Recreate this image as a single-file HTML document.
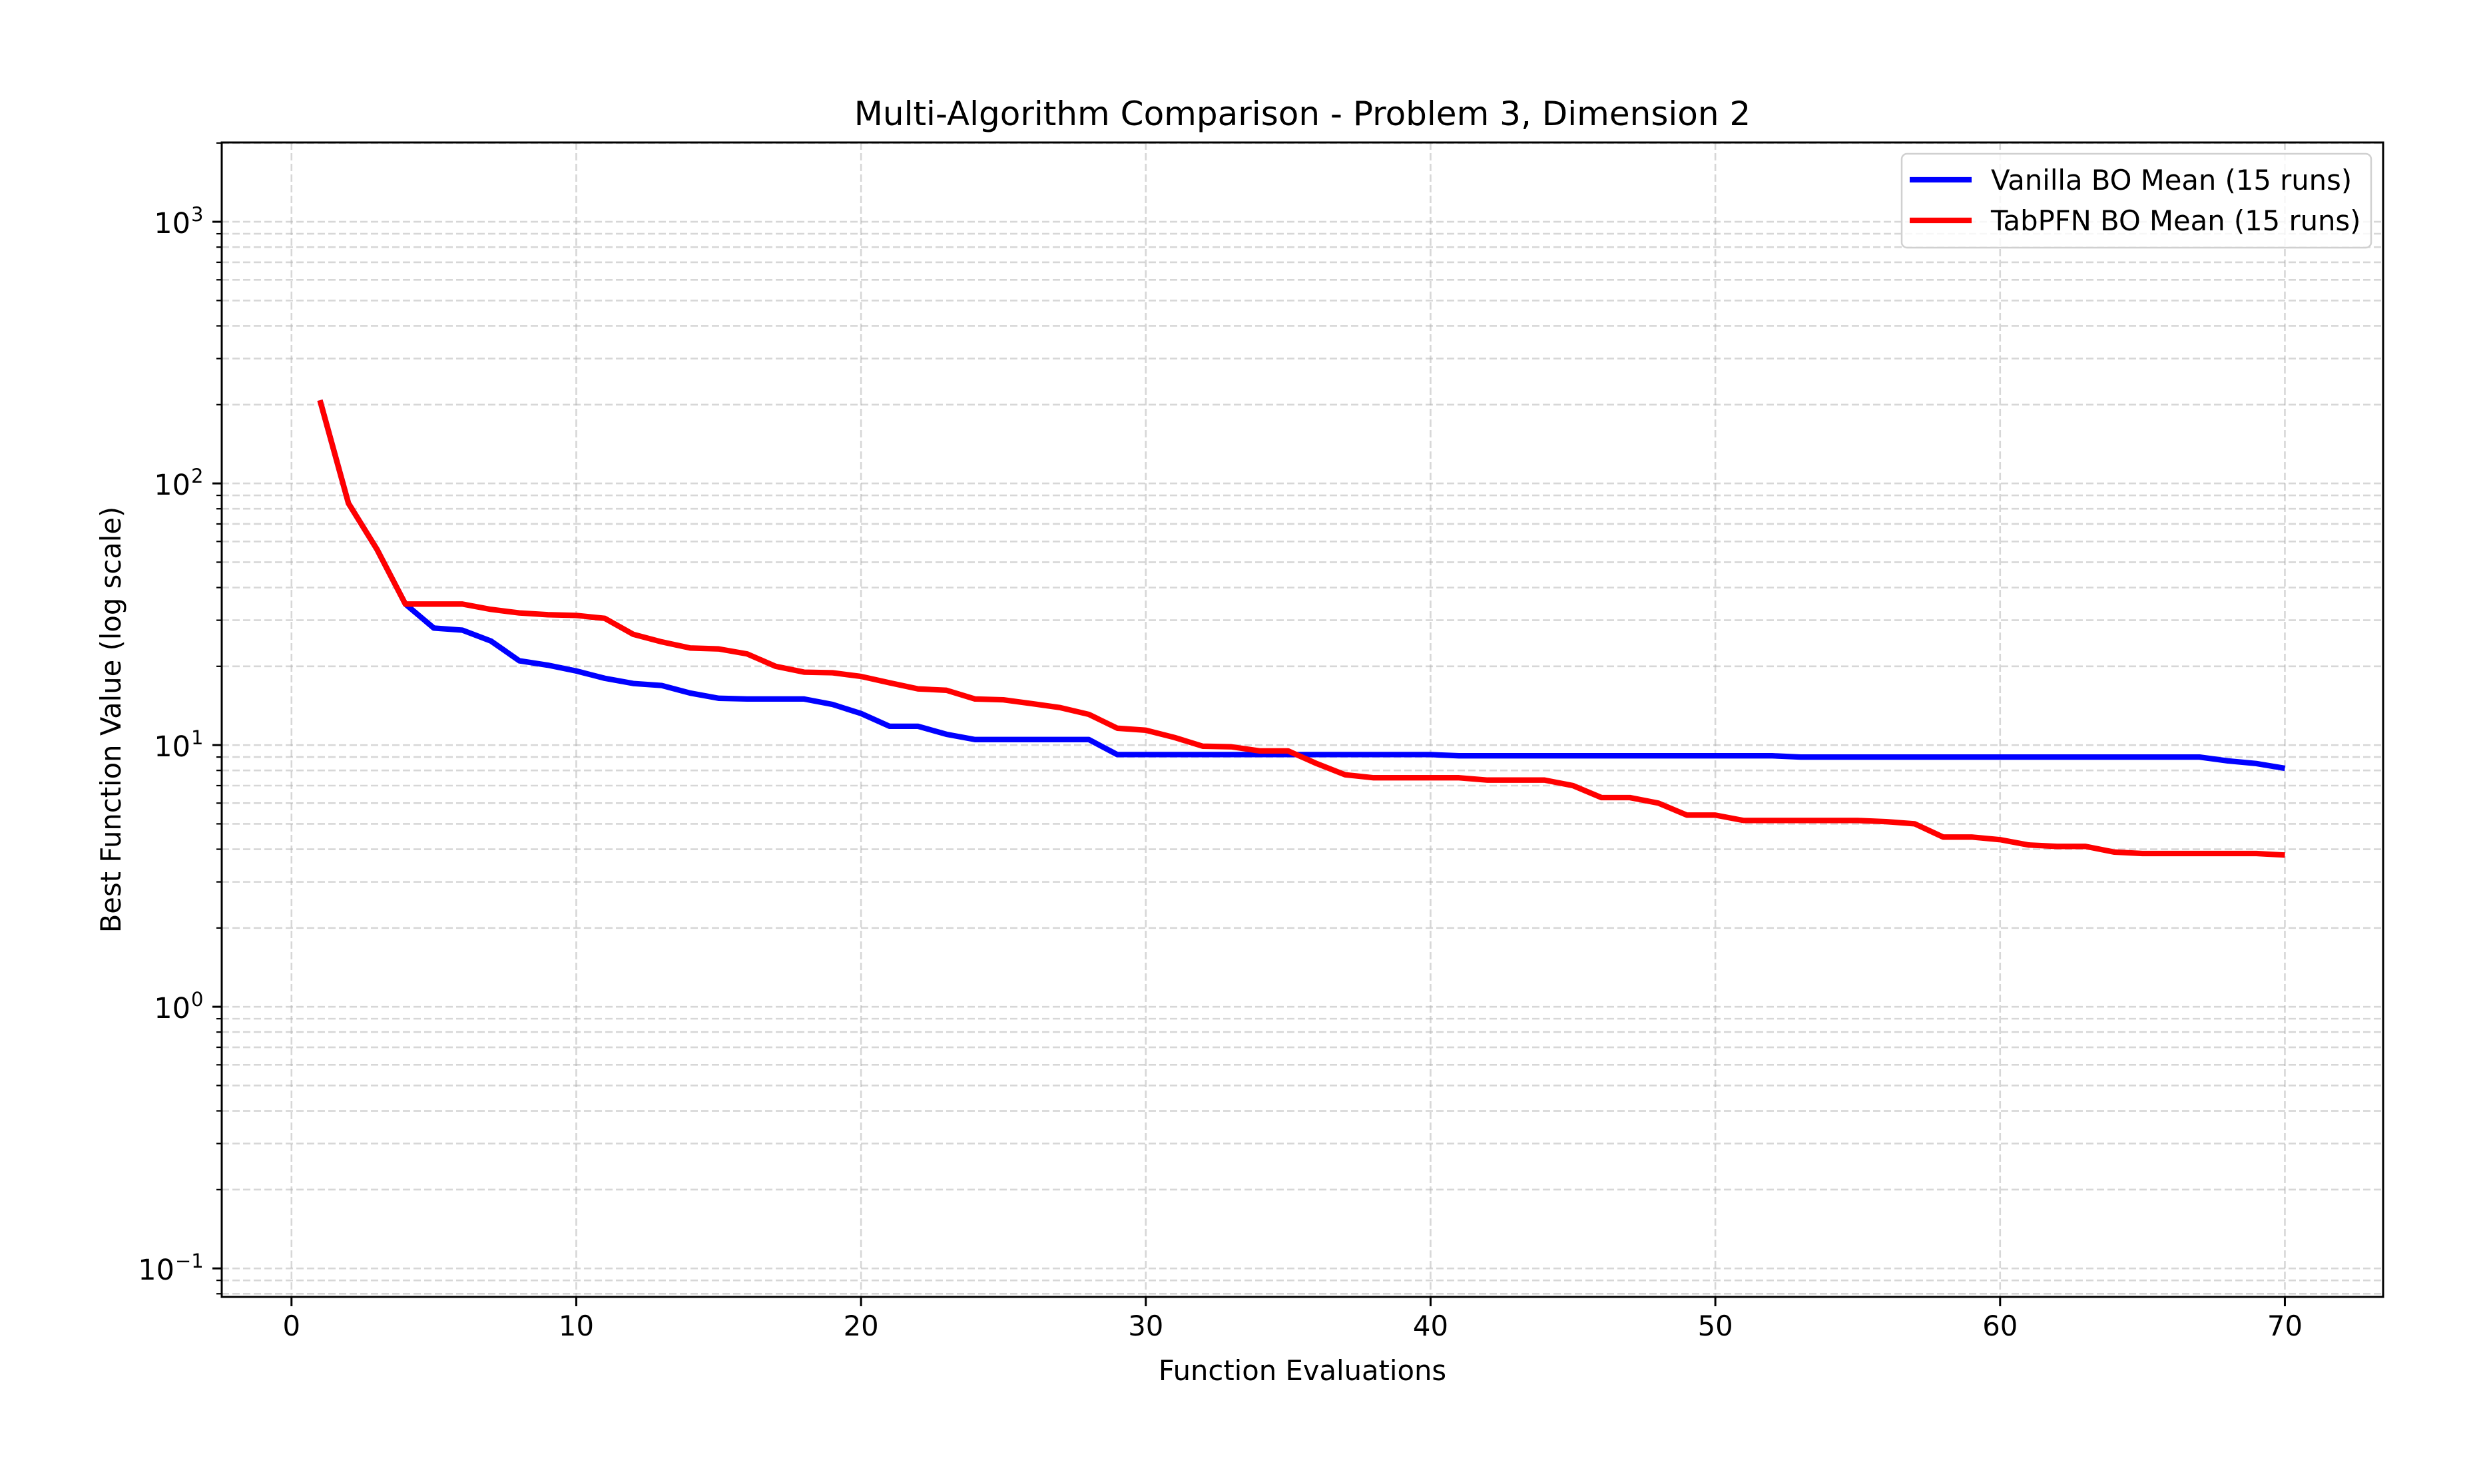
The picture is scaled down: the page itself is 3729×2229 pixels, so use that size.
<!DOCTYPE html>
<html><head><meta charset="utf-8"><style>
html,body{margin:0;padding:0;background:#fff;}
svg{display:block;}
text{font-family:"DejaVu Sans","Liberation Sans",sans-serif;fill:#000;}
</style></head><body>
<svg id="chart" width="3729" height="2229" viewBox="0 0 3729 2229" xmlns="http://www.w3.org/2000/svg">
<rect x="0" y="0" width="3729" height="2229" fill="#fff"/>
<g id="grid"></g>
<g id="series"></g>
<g id="axes"></g>
<text x="1956" y="188" font-size="50" text-anchor="middle">Multi-Algorithm Comparison - Problem 3, Dimension 2</text>
<text x="1956" y="2073" font-size="41.7" text-anchor="middle">Function Evaluations</text>
<text transform="translate(181,1081) rotate(-90)" font-size="41.7" text-anchor="middle">Best Function Value (log scale)</text>
<g>
<rect x="2856" y="231" width="705" height="141" rx="8" fill="#fff" fill-opacity="0.8" stroke="#d0d0d0" stroke-width="2.5"/>
<g>
<line x1="2868" y1="270" x2="2961" y2="270" stroke="#0000ff" stroke-width="8.3"/>
<text x="2990" y="285" font-size="41.7">Vanilla BO Mean (15 runs)</text>
</g>
<g>
<line x1="2868" y1="331" x2="2961" y2="331" stroke="#ff0000" stroke-width="8.3"/>
<text x="2990" y="346" font-size="41.7">TabPFN BO Mean (15 runs)</text>
</g>
</g>
</svg>
<script>
const evals = [];
for (let i = 1; i <= 70; i++) evals.push(i);
const vanillaMean = [208,84,56,34.6,28,27.5,25,21,20.2,19.2,18,17.2,16.9,15.8,15.1,15,15,15,14.3,13.2,11.8,11.8,11,10.5,10.5,10.5,10.5,10.5,9.2,9.2,9.2,9.2,9.2,9.2,9.2,9.2,9.2,9.2,9.2,9.2,9.1,9.1,9.1,9.1,9.1,9.1,9.1,9.1,9.1,9.1,9.1,9.1,9.0,9.0,9.0,9.0,9.0,9.0,9.0,9.0,9.0,9.0,9.0,9.0,9.0,9.0,9.0,8.7,8.5,8.15];
const tabpfnMean = [208,84,56,34.6,34.6,34.6,33,32,31.5,31.3,30.5,26.5,24.8,23.5,23.3,22.3,20,19,18.9,18.3,17.3,16.4,16.2,15,14.9,14.4,13.9,13.1,11.6,11.4,10.7,9.9,9.85,9.5,9.5,8.5,7.7,7.5,7.5,7.5,7.5,7.35,7.35,7.35,7.0,6.3,6.3,6.0,5.4,5.4,5.15,5.15,5.15,5.15,5.15,5.1,5.0,4.45,4.45,4.35,4.15,4.1,4.1,3.9,3.85,3.85,3.85,3.85,3.85,3.8];
const xTicks = [0,10,20,30,40,50,60,70];
const yTickExps = [-1,0,1,2,3];

const NS = "http://www.w3.org/2000/svg";
const L = 333, R = 3579, T = 214, B = 1948;
const xMin = -2.45, xMax = 73.45, yMinLog = -1.109, yMaxLog = 3.303;
function xs(v){ return L + (v - xMin) / (xMax - xMin) * (R - L); }
function ys(v){ return B - (Math.log10(v) - yMinLog) / (yMaxLog - yMinLog) * (B - T); }
function mk(tag, attrs, parent){
  const e = document.createElementNS(NS, tag);
  for (const k in attrs) e.setAttribute(k, attrs[k]);
  parent.appendChild(e);
  return e;
}
const grid = document.getElementById('grid');
const axes = document.getElementById('axes');
const series = document.getElementById('series');

xTicks.forEach(t => {
  const x = xs(t);
  const g = mk('line', {x1:x, y1:T, x2:x, y2:B, stroke:'#b0b0b0', 'stroke-opacity':0.5, 'stroke-width':2.6, 'stroke-dasharray':'11,5'}, grid);
  
  
  const tk = mk('line', {x1:x, y1:B, x2:x, y2:B+14, stroke:'#000', 'stroke-width':3}, axes);
  
  
  const lb = mk('text', {x:x, y:B+58, 'font-size':41.7, 'text-anchor':'middle'}, axes);
  lb.textContent = String(t);
  
  
});
for (let e = -2; e <= 3; e++) {
  for (let m = 1; m <= 9; m++) {
    const v = m * Math.pow(10, e);
    const lv = Math.log10(v);
    if (lv < yMinLog || lv > yMaxLog) continue;
    const y = ys(v);
    const g = mk('line', {x1:L, y1:y, x2:R, y2:y, stroke:'#b0b0b0', 'stroke-opacity':0.5, 'stroke-width':2.6, 'stroke-dasharray':'11,5'}, grid);
    
    
    const tk = mk('line', {x1:L - (m === 1 ? 14 : 8), y1:y, x2:L, y2:y, stroke:'#000', 'stroke-width':m === 1 ? 3 : 2.2}, axes);
    
    
  }
}
yTickExps.forEach(e => {
  const y = ys(Math.pow(10, e));
  const neg = e < 0;
  const lb = mk('text', {x: neg ? 262 : 286, y:y+17, 'font-size':43, 'text-anchor':'end'}, axes);
  lb.textContent = '10';
  
  
  const sp = mk('text', {x: neg ? 263 : 287, y:y-1, 'font-size':29, 'text-anchor':'start'}, axes);
  sp.textContent = neg ? '\u2212' + Math.abs(e) : String(e);
  
  
});
function drawLine(vals, color, name){
  const pts = vals.map((v,i) => xs(evals[i]).toFixed(1) + ',' + ys(v).toFixed(1)).join(' ');
  const p = mk('polyline', {points:pts, fill:'none', stroke:color, 'stroke-width':8.3, 'stroke-linejoin':'round', 'stroke-linecap':'butt'}, series);
  
  
}
drawLine(vanillaMean, '#0000ff', 'vanilla-bo-line');
drawLine(tabpfnMean, '#ff0000', 'tabpfn-bo-line');
const fr = mk('rect', {x:L, y:T, width:R-L, height:B-T, fill:'none', stroke:'#000', 'stroke-width':3}, axes);


</script>
</body></html>
